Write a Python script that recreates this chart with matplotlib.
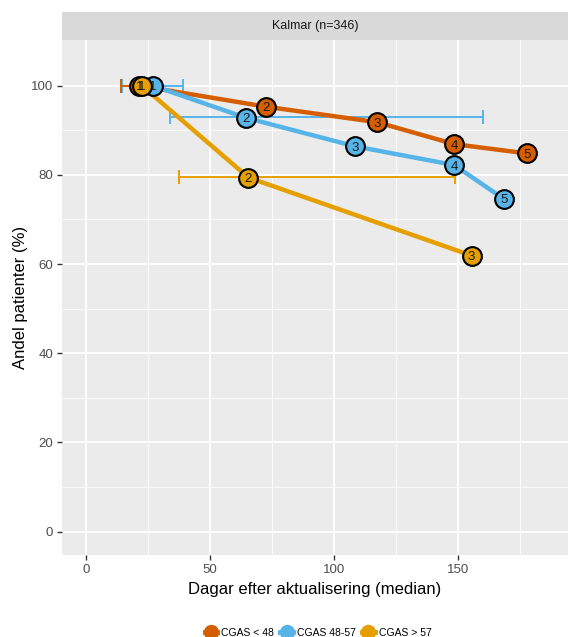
import matplotlib.pyplot as plt
from matplotlib.lines import Line2D
from matplotlib.patches import Rectangle

plt.rcParams['font.family'] = ['Liberation Sans', 'DejaVu Sans']

# median days after referral and share of patients, per CGAS group
groups = ['CGAS < 48', 'CGAS 48-57', 'CGAS > 57']
colors = ['#D55E00', '#56B4E9', '#E69F00']

x_low = [21.5, 72.5, 117.5, 148.5, 178]
y_low = [100, 95.3, 91.8, 86.9, 84.8]
x_mid = [27, 64.5, 108.5, 148.5, 168.5]
y_mid = [100, 92.8, 86.4, 82.2, 74.6]
x_high = [22.5, 65.5, 155.5]
y_high = [100, 79.4, 61.9]

# horizontal error bars (y, lower, upper)
err_low_y, err_low_lo, err_low_hi = [100], [14], [26]
err_mid_y, err_mid_lo, err_mid_hi = [100, 93.0], [14.5, 34], [39, 160]
err_high_y, err_high_lo, err_high_hi = [79.6], [37.5], [149]

series = [(x_low, y_low), (x_mid, y_mid), (x_high, y_high)]
errs = [(err_low_y, err_low_lo, err_low_hi),
        (err_mid_y, err_mid_lo, err_mid_hi),
        (err_high_y, err_high_lo, err_high_hi)]

fig = plt.figure(figsize=(5.68, 6.37), dpi=100)
ax = fig.add_axes([62/568, 1-555/637, 506/568, 515/637])
ax.set_facecolor('#EBEBEB')

# error bars first (blue under orange)
for i in [1, 0, 2]:
    ey, lo, hi = errs[i]
    mid = [(a + b) / 2 for a, b in zip(lo, hi)]
    xe = [[m - a for m, a in zip(mid, lo)], [b - m for m, b in zip(mid, hi)]]
    ax.errorbar(mid, ey, xerr=xe, fmt='none', ecolor=colors[i],
                elinewidth=1.4, capsize=5, capthick=1.4, zorder=2)

for i, (xs, ys) in enumerate(series):
    ax.plot(xs, ys, color=colors[i], lw=3.2, solid_capstyle='butt', zorder=3)
for i, (xs, ys) in enumerate(series):
    ax.plot(xs, ys, 'o', color=colors[i], markersize=13.5,
            markeredgecolor='black', markeredgewidth=1.5, zorder=4)
    for k, (xx, yy) in enumerate(zip(xs, ys)):
        ax.text(xx, yy, str(k + 1), ha='center', va='center_baseline',
                fontsize=9.5, color='#1A1A1A', zorder=5)

ax.set_xlim(-9.7, 194.4)
ax.set_ylim(-5.25, 110.25)
ax.set_xticks([0, 50, 100, 150])
ax.set_yticks([0, 20, 40, 60, 80, 100])
ax.set_xticks([25, 75, 125, 175], minor=True)
ax.set_yticks([10, 30, 50, 70, 90], minor=True)
ax.grid(which='major', color='white', lw=1.3)
ax.grid(which='minor', color='white', lw=0.6)
ax.set_axisbelow(True)
for s in ax.spines.values():
    s.set_visible(False)
ax.tick_params(which='major', length=3.5, width=1, color='#333333',
               labelcolor='#4D4D4D', labelsize=9.5, pad=3)
ax.tick_params(which='minor', length=0)

ax.set_xlabel('Dagar efter aktualisering (median)', fontsize=12, labelpad=4)
ax.set_ylabel('Andel patienter (%)', fontsize=12, labelpad=2)

# facet strip
strip = Rectangle((0, 1), 1, 28/515, transform=ax.transAxes,
                  facecolor='#D9D9D9', edgecolor='none', clip_on=False)
ax.add_patch(strip)
ax.text(0.5, 1 + 14/515, 'Kalmar (n=346)', transform=ax.transAxes,
        ha='center', va='center', fontsize=9, color='#1A1A1A')

handles = [Line2D([0], [0], color=c, lw=3.5, marker='o', markersize=10,
                  markeredgecolor=c, label=g) for c, g in zip(colors, groups)]
fig.legend(handles=handles, loc='center', bbox_to_anchor=(318/568, 1-633/637),
           ncol=3, frameon=False, fontsize=7.5, handlelength=1.2,
           handletextpad=0.4, columnspacing=0.6)

fig.savefig('out.png', dpi=100)
